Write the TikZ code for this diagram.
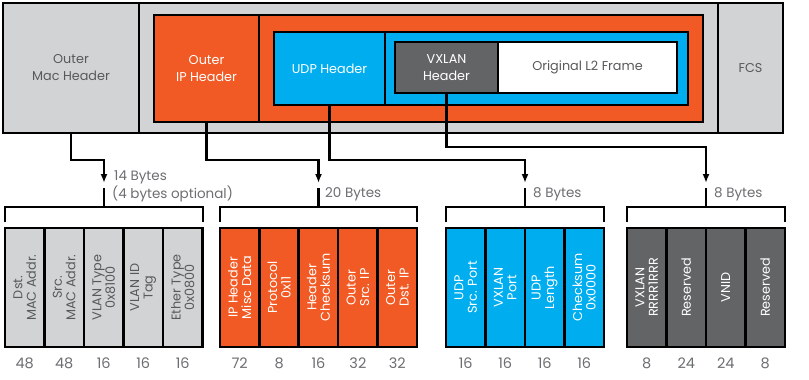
\documentclass[tikz,border=0pt]{standalone}
\usepackage{fontspec}
\setmainfont{Poppins}
\usetikzlibrary{arrows.meta}
\definecolor{lgray}{RGB}{209,211,212}
\definecolor{orng}{RGB}{241,90,36}
\definecolor{cyanb}{RGB}{0,174,239}
\definecolor{dgray}{RGB}{99,100,102}
\definecolor{txtgray}{RGB}{88,89,91}
\definecolor{numgray}{RGB}{109,110,113}
\tikzset{
  bx/.style={draw=black, line width=2.6pt, inner sep=0pt, outer sep=0pt, align=center},
  toptext/.style={font=\fontsize{12.8}{17}\selectfont},
  fld/.style={bx, rotate=90, minimum width=119pt, minimum height=39.5pt, font=\fontsize{12.8}{13.5}\selectfont},
  gfld/.style={fld, fill=lgray, text=txtgray},
  ofld/.style={fld, fill=orng, text=white},
  bfld/.style={fld, fill=cyanb, text=white},
  dfld/.style={fld, fill=dgray, text=white},
  conn/.style={line width=2.6pt, -{Latex[length=9pt,width=7pt]}},
  brk/.style={line width=2.6pt},
  lbl/.style={font=\fontsize{13.5}{15}\selectfont, text=numgray, inner sep=0pt, anchor=west},
  num/.style={font=\fontsize{14.5}{16}\selectfont, text=numgray, inner sep=0pt},
}
\begin{document}
\begin{tikzpicture}[x=1pt,y=-1pt]
\useasboundingbox[fill=white] (0,0) rectangle (809,380);
% top structure
\node[bx, fill=lgray, minimum width=780pt, minimum height=130pt] (frame) at (393,68) {};
\node[bx, fill=lgray, minimum width=136pt, minimum height=130pt, toptext, text=txtgray] (mac) at (71,68) {Outer\\Mac Header};
\node[bx, fill=lgray, minimum width=65pt, minimum height=130pt, toptext, text=txtgray] (fcs) at (750.5,68) {FCS};
\node[bx, fill=orng, minimum width=549pt, minimum height=107pt] (obox) at (428.5,68.5) {};
\node[bx, fill=orng, minimum width=105pt, minimum height=107pt, toptext, text=white] (ip) at (206.5,68.5) {Outer\\IP Header};
\node[bx, fill=cyanb, minimum width=414pt, minimum height=73pt] (bbox) at (481,68.5) {};
\node[bx, fill=cyanb, minimum width=111pt, minimum height=73pt, toptext, text=white] (udp) at (329.5,68.5) {UDP Header};
\node[bx, fill=white, minimum width=282pt, minimum height=51pt] (vbox) at (536,67.5) {};
\node[bx, fill=dgray, minimum width=103pt, minimum height=51pt, toptext, text=white] (vx) at (446.5,67.5) {VXLAN\\Header};
\node[bx, fill=white, minimum width=179pt, minimum height=51pt, toptext, text=txtgray] (l2) at (587.5,67.5) {Original L2 Frame};
% arrow targets
\coordinate (a1) at (104,183);
\coordinate (a2) at (318.5,183);
\coordinate (a3) at (525,183);
\coordinate (a4) at (706,183);
\draw[conn] (mac.south) -- ++(0,27) -| (a1);
\draw[conn] (ip.south) -- ++(0,38) -| (a2);
\draw[conn] (udp.south) -- ++(0,55) -| (a3);
\draw[conn] (vx.south) -- ++(0,54) -| (a4);
% brackets
\draw[brk] (5,222) |- (203,207) -- (203,222);
\draw[brk] (220,222) |- (417,207) -- (417,222);
\draw[brk] (446,222) |- (604,207) -- (604,222);
\draw[brk] (627,222) |- (785,207) -- (785,222);
\coordinate (s1) at (104,188); \coordinate (s2) at (318.5,188);
\coordinate (s3) at (525,188); \coordinate (s4) at (706,188);
\draw[brk] (s1) -- ++(0,19);
\draw[brk] (s2) -- ++(0,19);
\draw[brk] (s3) -- ++(0,19);
\draw[brk] (s4) -- ++(0,19);
\node[lbl] (l1a) at (114,177) {14 Bytes};
\node[lbl] (l1b) at (112,194) {(4 bytes optional)};
\node[lbl] (l2a) at (325,194) {20 Bytes};
\node[lbl] (l3a) at (533,194) {8 Bytes};
\node[lbl] (l4a) at (714,194) {8 Bytes};
% fields
\foreach \t/\n [count=\i from 0] in {{Dst.\\MAC Addr.}/48, {Src.\\MAC Addr.}/48, {VLAN Type\\0x8100}/16, {VLAN ID\\Tag}/16, {Ether Type\\0x0800}/16}{
  \node[gfld] (g\i) at (5+19.75+39.5*\i,287.5) {\t};
  \node[num] (gn\i) at (5+19.75+39.5*\i,363) {\n};
}
\foreach \t/\n [count=\i from 0] in {{IP Header\\Misc Data}/72, {Protocol\\0x11}/8, {Header\\Checksum}/16, {Outer\\Src. IP}/32, {Outer\\Dst. IP}/32}{
  \node[ofld] (o\i) at (220+19.7+39.4*\i,287.5) {\t};
  \node[num] (on\i) at (220+19.7+39.4*\i,363) {\n};
}
\foreach \t/\n [count=\i from 0] in {{UDP\\Src. Port}/16, {VXLAN\\Port}/16, {UDP\\Length}/16, {Checksum\\0x0000}/16}{
  \node[bfld] (b\i) at (446+19.75+39.5*\i,287.5) {\t};
  \node[num] (bn\i) at (446+19.75+39.5*\i,363) {\n};
}
\foreach \t/\n [count=\i from 0] in {{VXLAN\\RRRR1RRR}/8, {Reserved}/24, {VNID}/24, {Reserved}/8}{
  \node[dfld] (d\i) at (627+19.75+39.5*\i,287.5) {\t};
  \node[num] (dn\i) at (627+19.75+39.5*\i,363) {\n};
}
\end{tikzpicture}
\end{document}
